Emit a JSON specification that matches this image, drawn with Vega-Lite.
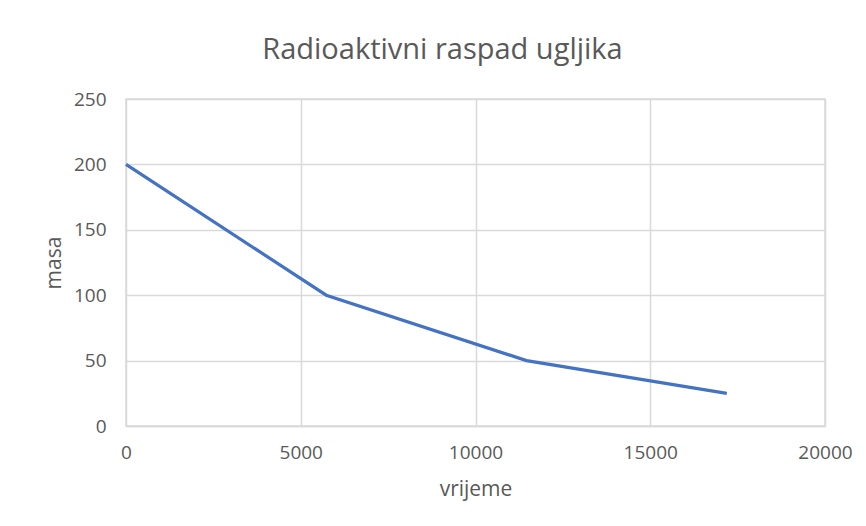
{
  "$schema": "https://vega.github.io/schema/vega-lite/v6.json",
  "autosize": "none",
  "width": 699,
  "height": 327,
  "padding": {"left": 126, "top": 99, "right": 41, "bottom": 100},
  "background": "white",
  "title": {
    "text": "Radioaktivni raspad ugljika",
    "font": "Open Sans",
    "fontSize": 29,
    "fontWeight": "normal",
    "color": "#595959",
    "anchor": "middle",
    "dx": -33,
    "offset": 25
  },
  "data": {
    "values": [
      {"vrijeme": 0, "masa": 200},
      {"vrijeme": 5730, "masa": 100},
      {"vrijeme": 11460, "masa": 50},
      {"vrijeme": 17190, "masa": 25}
    ]
  },
  "mark": {"type": "line", "color": "#4472C4", "strokeWidth": 3.2, "clip": false},
  "encoding": {
    "x": {
      "field": "vrijeme",
      "type": "quantitative",
      "scale": {"domain": [0, 20000], "nice": false},
      "axis": {
        "title": "vrijeme",
        "values": [0, 5000, 10000, 15000, 20000],
        "format": "d",
        "labelFont": "Open Sans",
        "labelFontSize": 19,
        "labelColor": "#595959",
        "titleFont": "Open Sans",
        "titleFontSize": 21,
        "titleFontWeight": "normal",
        "titleColor": "#595959",
        "titlePadding": 16,
        "labelPadding": 17,
        "ticks": false,
        "domainColor": "#d9d9d9",
        "domainWidth": 1.5,
        "gridColor": "#d9d9d9",
        "gridWidth": 1.5,
        "labelFlush": false
      }
    },
    "y": {
      "field": "masa",
      "type": "quantitative",
      "scale": {"domain": [0, 250], "nice": false},
      "axis": {
        "title": "masa",
        "values": [0, 50, 100, 150, 200, 250],
        "labelFont": "Open Sans",
        "labelFontSize": 19,
        "labelColor": "#595959",
        "titleFont": "Open Sans",
        "titleFontSize": 21,
        "titleFontWeight": "normal",
        "titleColor": "#595959",
        "titlePadding": 9,
        "labelPadding": 20,
        "ticks": false,
        "domain": false,
        "gridColor": "#d9d9d9",
        "gridWidth": 1.5
      }
    }
  },
  "config": {
    "view": {"stroke": "#d9d9d9", "strokeWidth": 1.5}
  }
}
